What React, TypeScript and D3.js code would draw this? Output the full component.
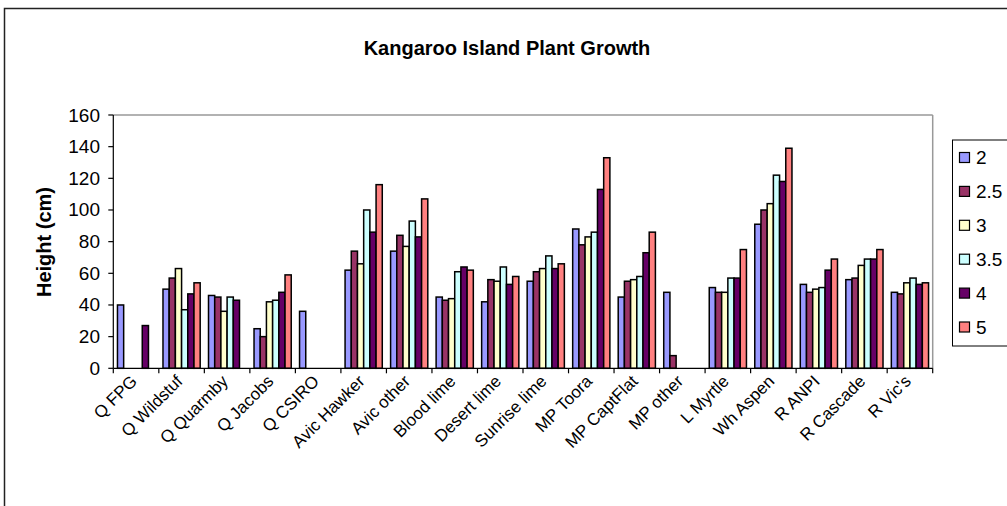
import React from "react";
import * as d3 from "d3";

const categories = ["Q FPG","Q Wildstuf","Q Quarmby","Q Jacobs","Q CSIRO","Avic Hawker","Avic other","Blood lime","Desert lime","Sunrise lime","MP Toora","MP CaptFlat","MP other","L Myrtle","Wh Aspen","R ANPI","R Cascade","R Vic's"];
const seriesNames = ["2","2.5","3","3.5","4","5"];
const s2  = [40,50,46,25,36,62,74,45,42,55,88,45,48,51,91,53,56,48];
const s25 = [null,57,45,20,null,74,84,43,56,61,78,55,8,48,100,48,57,47];
const s3  = [null,63,36,42,null,66,77,44,55,63,83,56,null,48,104,50,65,54];
const s35 = [null,37,45,43,null,100,93,61,64,71,86,58,null,57,122,51,69,57];
const s4  = [27,47,43,48,null,86,83,64,53,63,113,73,null,57,118,62,69,53];
const s5  = [null,54,null,59,null,116,107,62,58,66,133,86,null,75,139,69,75,54];
const seriesValues: (number | null)[][] = [s2, s25, s3, s35, s4, s5];
const colors = ["#9999FF","#993366","#FFFFCC","#CCFFFF","#660066","#FF8080"];
const yTicks = [0,20,40,60,80,100,120,140,160];

const W = 1007, H = 506;
const plot = { left: 113.3, right: 932.7, top: 115, bottom: 368.3 };
const font = "Arial, 'Liberation Sans', sans-serif";

export default function App() {
  const x0 = d3.scaleBand().domain(categories).range([plot.left, plot.right]).paddingInner(0).paddingOuter(0);
  const bw = 6.2;
  const innerOffset = (x0.bandwidth() - bw * 6) / 2;
  const y = d3.scaleLinear().domain([0, 160]).range([plot.bottom, plot.top]);

  return (
    <svg width={W} height={H} style={{ position: "absolute", left: 0, top: 0, background: "#fff" }} fontFamily={font}>
      <rect x={0} y={0} width={W} height={H} fill="#fff" />
      <rect x={4.5} y={8.5} width={1020} height={540} fill="none" stroke="#222" strokeWidth={1.5} />
      <text x={507} y={55} textAnchor="middle" fontSize={20} fontWeight="bold">Kangaroo Island Plant Growth</text>
      {/* plot border */}
      <line x1={plot.left} x2={plot.right} y1={plot.top} y2={plot.top} stroke="#999" strokeWidth={1.5} />
      <line x1={plot.right} x2={plot.right} y1={plot.top} y2={plot.bottom} stroke="#999" strokeWidth={1.5} />
      {/* bars */}
      {categories.map((c, ci) =>
        seriesValues.map((vals, si) => {
          const v = vals[ci];
          if (v == null) return null;
          const bx = (x0(c) as number) + innerOffset + si * bw;
          return (
            <rect key={c + si} x={bx} y={y(v)} width={bw} height={y(0) - y(v)} fill={colors[si]} stroke="#000" strokeWidth={1.5} />
          );
        })
      )}
      {/* y axis */}
      <line x1={plot.left} x2={plot.left} y1={plot.top} y2={plot.bottom} stroke="#000" strokeWidth={1.2} />
      {yTicks.map((t) => (
        <g key={t}>
          <line x1={plot.left - 5} x2={plot.left} y1={y(t)} y2={y(t)} stroke="#000" strokeWidth={1.2} />
          <text x={100} y={y(t) + 6.5} textAnchor="end" fontSize={19}>{t}</text>
        </g>
      ))}
      {/* x axis */}
      <line x1={plot.left} x2={plot.right} y1={plot.bottom} y2={plot.bottom} stroke="#000" strokeWidth={1.2} />
      {categories.map((c, i) => (
        <line key={"t" + i} x1={(x0(c) as number)} x2={(x0(c) as number)} y1={plot.bottom} y2={plot.bottom + 5} stroke="#000" strokeWidth={1.2} />
      ))}
      <line x1={plot.right} x2={plot.right} y1={plot.bottom} y2={plot.bottom + 5} stroke="#000" strokeWidth={1.2} />
      {categories.map((c, i) => {
        const cx = (x0(c) as number) + x0.bandwidth() / 2 + 2;
        const cy = plot.bottom + 14;
        return (
          <text key={"l" + i} x={cx} y={cy} transform={`rotate(-45 ${cx} ${cy})`} textAnchor="end" fontSize={17}>{c}</text>
        );
      })}
      <text x={0} y={0} transform={`translate(51 242) rotate(-90)`} textAnchor="middle" fontSize={20} fontWeight="bold">Height (cm)</text>
      {/* legend */}
      <rect x={952.5} y={140} width={80} height={206} fill="#fff" stroke="#000" strokeWidth={1} />
      {seriesNames.map((n, i) => {
        const cy = 157.5 + i * 33.9;
        return (
          <g key={n}>
            <rect x={959.5} y={cy - 5} width={10} height={10} fill={colors[i]} stroke="#000" strokeWidth={1.2} />
            <text x={976} y={cy + 6.5} fontSize={19}>{n}</text>
          </g>
        );
      })}
    </svg>
  );
}
